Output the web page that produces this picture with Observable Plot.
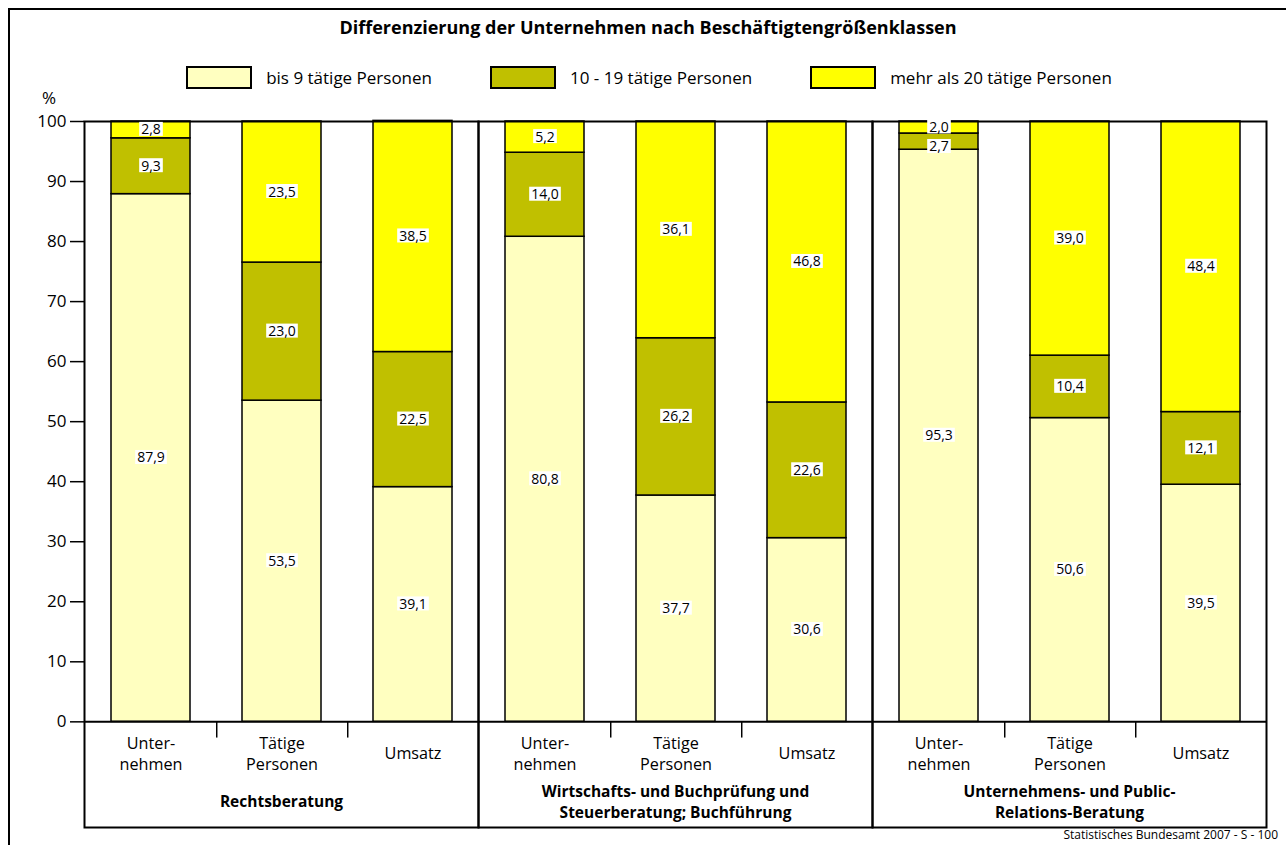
<!DOCTYPE html>
<html>
<head>
<meta charset="utf-8">
<script src="https://cdn.jsdelivr.net/npm/d3@7"></script>
<script src="https://cdn.jsdelivr.net/npm/@observablehq/plot@0.6"></script>
<style>
  html, body { margin: 0; padding: 0; background: #fff; }
  body { width: 1286px; height: 845px; overflow: hidden; position: relative; font-family: "Open Sans", Lato, sans-serif; color: #000; }
  #outer { position: absolute; left: 8px; top: 8px; width: 1400px; height: 1000px; border-left: 2px solid #000; border-top: 2px solid #000; }
  #title { position: absolute; left: 0; top: 15px; width: 1296px; text-align: center; font-weight: bold; font-size: 18px; line-height: 24px; }
  #legend { position: absolute; left: 0; top: 66px; width: 1298px; display: flex; justify-content: center; gap: 58px; font-size: 17px; line-height: 23px; }
  .item { display: flex; align-items: center; }
  .swatch { width: 62px; height: 19px; border: 2px solid #000; margin-right: 14px; }
  #pct { position: absolute; left: 42px; top: 89px; font-size: 17px; line-height: 18px; }
  #chart { position: absolute; left: 0; top: 95px; }
  #footer { position: absolute; right: 8px; top: 828px; font-size: 12px; line-height: 14px; }
</style>
</head>
<body>
<div id="outer"></div>
<div id="title">Differenzierung der Unternehmen nach Beschäftigtengrößenklassen</div>
<div id="legend"></div>
<div id="pct">%</div>
<div id="chart"></div>
<div id="footer">Statistisches Bundesamt 2007 - S - 100</div>
<script>
// ---- data ----
const groups = [
  "Rechtsberatung",
  "Wirtschafts- und Buchprüfung und Steuerberatung; Buchführung",
  "Unternehmens- und Public-Relations-Beratung"
];
const groupLabels = [
  "Rechtsberatung",
  "Wirtschafts- und Buchprüfung und\nSteuerberatung; Buchführung",
  "Unternehmens- und Public-\nRelations-Beratung"
];
const measures = ["Unternehmen", "Tätige Personen", "Umsatz"];
const measureLabels = ["Unter-\nnehmen", "Tätige\nPersonen", "Umsatz"];
const classes = ["bis 9 tätige Personen", "10 - 19 tätige Personen", "mehr als 20 tätige Personen"];
const colors = ["#FFFFC0", "#C0C000", "#FFFF00"];
// values ordered: group1 (Unternehmen, Tätige Personen, Umsatz), group2 ..., group3 ...
const bis9 = [87.9, 53.5, 39.1, 80.8, 37.7, 30.6, 95.3, 50.6, 39.5];
const von10bis19 = [9.3, 23.0, 22.5, 14.0, 26.2, 22.6, 2.7, 10.4, 12.1];
const ab20 = [2.8, 23.5, 38.5, 5.2, 36.1, 46.8, 2.0, 39.0, 48.4];
const yTicks = [0, 10, 20, 30, 40, 50, 60, 70, 80, 90, 100];
const yDomain = [-17.6, 100];

// ---- table ----
const series = [bis9, von10bis19, ab20];
const rows = [];
groups.forEach((g, gi) => measures.forEach((m, mi) => classes.forEach((c, ci) => {
  rows.push({group: g, measure: m, cls: c, value: series[ci][gi * 3 + mi]});
})));
const cats = [];
groups.forEach(g => measures.forEach((m, mi) => cats.push({group: g, measure: m, label: measureLabels[mi], last: mi === measures.length - 1})));
const fmt = v => v.toFixed(1).replace(".", ",");

// ---- legend ----
const legend = document.getElementById("legend");
classes.forEach((c, i) => {
  const it = document.createElement("div"); it.className = "item";
  const sw = document.createElement("div"); sw.className = "swatch"; sw.style.background = colors[i];
  const tx = document.createElement("span"); tx.textContent = c;
  it.appendChild(sw); it.appendChild(tx); legend.appendChild(it);
});

// ---- chart ----
const width = 1276, marginLeft = 83, marginRight = 10;
const facetW = (width - marginLeft - marginRight) / groups.length;
const halfStep = facetW / measures.length / 2;

const chart = Plot.plot({
  width, height: 734,
  marginLeft, marginRight, marginTop: 26, marginBottom: 2,
  style: {fontFamily: "'Open Sans', Lato, sans-serif", color: "#000", background: "transparent", overflow: "visible"},
  fx: {domain: groups, padding: 0, axis: null},
  x: {domain: measures, paddingInner: 0.4, paddingOuter: 0.2, axis: null},
  y: {domain: yDomain, axis: null},
  color: {domain: classes, range: colors},
  marks: [
    Plot.barY(rows, Plot.stackY({order: classes, fx: "group", x: "measure", y: "value", z: "cls", fill: "cls", stroke: "#000", strokeWidth: 1.5})),
    Plot.ruleY([0], {stroke: "#000", strokeWidth: 2}),
    Plot.ruleX(cats.filter(d => !d.last), {fx: "group", x: "measure", y1: 0, y2: -2.7, dx: halfStep, stroke: "#000", strokeWidth: 1.5}),
    Plot.frame({stroke: "#000", strokeWidth: 2}),
    Plot.axisY(yTicks, {tickSize: 14, tickPadding: 4, fontSize: 17, label: null, strokeWidth: 1.5}),
    Plot.text(rows, Plot.stackY({order: classes, fx: "group", x: "measure", y: "value", z: "cls", text: d => fmt(d.value), fontSize: 14, fill: "#000"})),
    Plot.text(cats, {fx: "group", x: "measure", text: "label", frameAnchor: "bottom", dy: -75, lineAnchor: "middle", lineHeight: 1.3, fontSize: 16.2}),
    Plot.text(groups, {fx: d => d, text: (d, i) => groupLabels[i], frameAnchor: "bottom", dy: -27, lineAnchor: "middle", lineHeight: 1.38, fontSize: 15.5, fontWeight: "bold"})
  ]
});
document.getElementById("chart").appendChild(chart);

// value labels: separate colliding labels in the same bar, then put white boxes behind them
const valueTexts = [...chart.querySelectorAll("text")].filter(t => /^\d+,\d$/.test(t.textContent.trim()));
const byBar = d3.group(valueTexts, t => { const r = t.getBoundingClientRect(); return Math.round((r.left + r.width / 2) / 20); });
for (const list of byBar.values()) {
  list.sort((a, b) => a.getBoundingClientRect().top - b.getBoundingClientRect().top);
  for (let i = 1; i < list.length; i++) {
    const a = list[i - 1].getBoundingClientRect(), b = list[i].getBoundingClientRect();
    const need = a.bottom - b.top + 0.5;
    if (need > 0) {
      const t = list[i];
      t.setAttribute("transform", ((t.getAttribute("transform") || "") + ` translate(0,${need})`).trim());
    }
  }
}
valueTexts.forEach(t => {
  const b = t.getBBox();
  const r = document.createElementNS("http://www.w3.org/2000/svg", "rect");
  r.setAttribute("x", b.x - 2); r.setAttribute("y", b.y + 2.5);
  r.setAttribute("width", b.width + 4); r.setAttribute("height", b.height - 5);
  r.setAttribute("fill", "#fff");
  if (t.getAttribute("transform")) r.setAttribute("transform", t.getAttribute("transform"));
  t.parentNode.insertBefore(r, t);
});
</script>
</body>
</html>
